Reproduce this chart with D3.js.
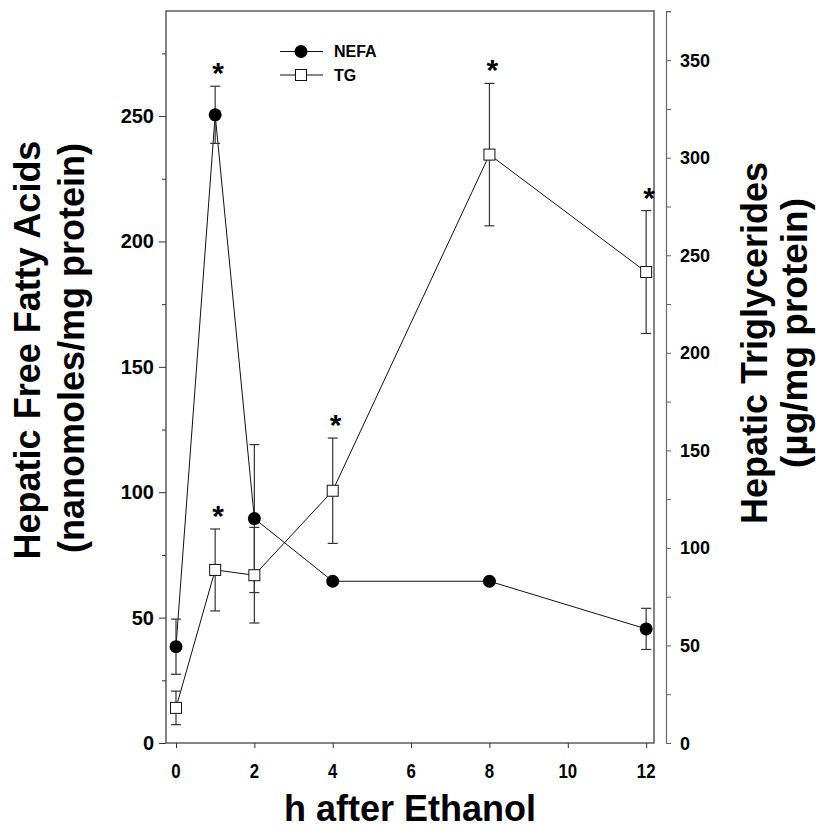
<!DOCTYPE html>
<html>
<head>
<meta charset="utf-8">
<script src="https://cdn.jsdelivr.net/npm/d3@7"></script>
<style>
body { margin: 0; background: #fff; }
svg { display: block; }
</style>
</head>
<body>
<svg id="chart"></svg>
<script>
const width = 816;
const height = 831;

// data
const hours = [0, 1, 2, 4, 8, 12];
const nefa = [38.4, 250.5, 89.5, 64.5, 64.5, 45.5];
const nefaErr = [11, 11.4, 29.5, 0, 0, 8.2];
const nefaStar = [false, true, false, false, false, false];
const tg = [18, 88.7, 86, 129.3, 301.6, 241.4];
const tgErr = [8.6, 21, 24.5, 27, 36.5, 31.5];
const tgStar = [false, true, false, true, true, true];
const xTicks = [0, 2, 4, 6, 8, 10, 12];
const leftTicks = [0, 50, 100, 150, 200, 250];
const rightTicks = [0, 50, 100, 150, 200, 250, 300, 350];

const font = "'Liberation Sans', Arial, Helvetica, sans-serif";

const svg = d3.select("#chart")
  .attr("width", width)
  .attr("height", height);

const x = d3.scaleLinear().domain([-0.255, 12.2]).range([166, 654]);
const yL = d3.scaleLinear().domain([0, 291.9]).range([743, 11]);
const yR = d3.scaleLinear().domain([0, 375.2]).range([743, 11]);

// frame
svg.append("rect")
  .attr("x", 166).attr("y", 11)
  .attr("width", 654 - 166).attr("height", 743 - 11)
  .attr("fill", "none").attr("stroke", "#333").attr("stroke-width", 1.2);

// left axis
const gL = svg.append("g").attr("transform", "translate(166,0)")
  .call(d3.axisLeft(yL).tickValues(d3.range(0, 291, 25)).tickSize(7).tickFormat(""));
gL.select(".domain").remove();
gL.selectAll(".tick line").attr("stroke", "#333")
  .attr("x2", (d) => d % 50 === 0 ? -7 : -4);
svg.append("g").selectAll("text")
  .data(leftTicks)
  .join("text")
  .attr("x", 154)
  .attr("y", (d) => yL(d) + 7)
  .attr("text-anchor", "end")
  .attr("font-family", font)
  .attr("font-weight", "bold")
  .attr("font-size", 20)
  .text((d) => d);

// right axis
const gR = svg.append("g").attr("transform", "translate(666,0)")
  .call(d3.axisRight(yR).tickValues(d3.range(0, 376, 25)).tickSize(5).tickSizeOuter(5).tickFormat(""));
gR.select(".domain").attr("stroke", "#666").attr("stroke-width", 1.2);
gR.selectAll(".tick line").attr("stroke", "#666");
svg.append("g").selectAll("text")
  .data(rightTicks)
  .join("text")
  .attr("x", 680)
  .attr("y", (d) => yR(d) + 6.5)
  .attr("font-family", font)
  .attr("font-weight", "bold")
  .attr("font-size", 18)
  .text((d) => d);

// bottom axis
const gX = svg.append("g").attr("transform", "translate(0,743)")
  .call(d3.axisBottom(x).tickValues(xTicks).tickSize(5).tickFormat(""));
gX.select(".domain").remove();
gX.selectAll(".tick line").attr("stroke", "#333");
svg.append("g").selectAll("text")
  .data(xTicks)
  .join("text")
  .attr("transform", (d) => `translate(${x(d)},778) scale(0.8,1)`)
  .attr("text-anchor", "middle")
  .attr("font-family", font)
  .attr("font-weight", "bold")
  .attr("font-size", 21)
  .text((d) => d);

// titles
svg.append("text")
  .attr("x", 410).attr("y", 821)
  .attr("text-anchor", "middle")
  .attr("font-family", font).attr("font-weight", "bold").attr("font-size", 36)
  .text("h after Ethanol");

function vTitle(tx, ty, size, label) {
  svg.append("text")
    .attr("transform", `translate(${tx},${ty}) rotate(-90)`)
    .attr("text-anchor", "middle")
    .attr("font-family", font).attr("font-weight", "bold").attr("font-size", size)
    .text(label);
}
vTitle(40, 350, 36, "Hepatic Free Fatty Acids");
vTitle(84, 348, 36, "(nanomoles/mg protein)");
vTitle(767, 343, 36, "Hepatic Triglycerides");
vTitle(807, 333, 37, "(\u00B5g/mg protein)");

const nefaData = hours.map((h, i) => ({ h, v: nefa[i], e: nefaErr[i], star: nefaStar[i] }));
const tgData = hours.map((h, i) => ({ h, v: tg[i], e: tgErr[i], star: tgStar[i] }));

function drawLine(data, y) {
  svg.append("path")
    .datum(data)
    .attr("fill", "none")
    .attr("stroke", "#111")
    .attr("stroke-width", 1)
    .attr("d", d3.line().x((d) => x(d.h)).y((d) => y(d.v)));
}

function drawErr(data, y) {
  const g = svg.append("g").attr("stroke", "#333").attr("stroke-width", 1.2);
  const withErr = data.filter((d) => d.e > 0);
  g.selectAll("line.v").data(withErr).join("line")
    .attr("x1", (d) => x(d.h)).attr("x2", (d) => x(d.h))
    .attr("y1", (d) => y(d.v - d.e)).attr("y2", (d) => y(d.v + d.e));
  g.selectAll("line.t").data(withErr).join("line")
    .attr("x1", (d) => x(d.h) - 5).attr("x2", (d) => x(d.h) + 5)
    .attr("y1", (d) => y(d.v + d.e)).attr("y2", (d) => y(d.v + d.e));
  g.selectAll("line.b").data(withErr).join("line")
    .attr("x1", (d) => x(d.h) - 5).attr("x2", (d) => x(d.h) + 5)
    .attr("y1", (d) => y(d.v - d.e)).attr("y2", (d) => y(d.v - d.e));
}

function drawStars(data, y) {
  svg.append("g").selectAll("text")
    .data(data.filter((d) => d.star))
    .join("text")
    .attr("x", (d) => x(d.h) + 3)
    .attr("y", (d) => y(d.v + d.e) - 3)
    .attr("text-anchor", "middle")
    .attr("font-family", font).attr("font-weight", "bold").attr("font-size", 30)
    .text("*");
}

drawLine(nefaData, yL);
drawLine(tgData, yR);
drawErr(nefaData, yL);
drawErr(tgData, yR);

svg.append("g").selectAll("circle")
  .data(nefaData)
  .join("circle")
  .attr("cx", (d) => x(d.h))
  .attr("cy", (d) => yL(d.v))
  .attr("r", 6.5)
  .attr("fill", "#000");

svg.append("g").selectAll("rect")
  .data(tgData)
  .join("rect")
  .attr("x", (d) => x(d.h) - 5.5)
  .attr("y", (d) => yR(d.v) - 5.5)
  .attr("width", 11).attr("height", 11)
  .attr("fill", "#fff").attr("stroke", "#111").attr("stroke-width", 1);

drawStars(nefaData, yL);
drawStars(tgData, yR);

// legend
const legend = svg.append("g");
legend.append("line").attr("x1", 280).attr("x2", 323).attr("y1", 51.5).attr("y2", 51.5).attr("stroke", "#111");
legend.append("circle").attr("cx", 301).attr("cy", 51.5).attr("r", 6.5).attr("fill", "#000");
legend.append("line").attr("x1", 280).attr("x2", 323).attr("y1", 75).attr("y2", 75).attr("stroke", "#111");
legend.append("rect").attr("x", 295.5).attr("y", 69.5).attr("width", 11).attr("height", 11)
  .attr("fill", "#fff").attr("stroke", "#111");
legend.append("text").attr("x", 334).attr("y", 57).attr("font-family", font)
  .attr("font-weight", "bold").attr("font-size", 16).text("NEFA");
legend.append("text").attr("x", 334).attr("y", 81).attr("font-family", font)
  .attr("font-weight", "bold").attr("font-size", 16).text("TG");
</script>
</body>
</html>
